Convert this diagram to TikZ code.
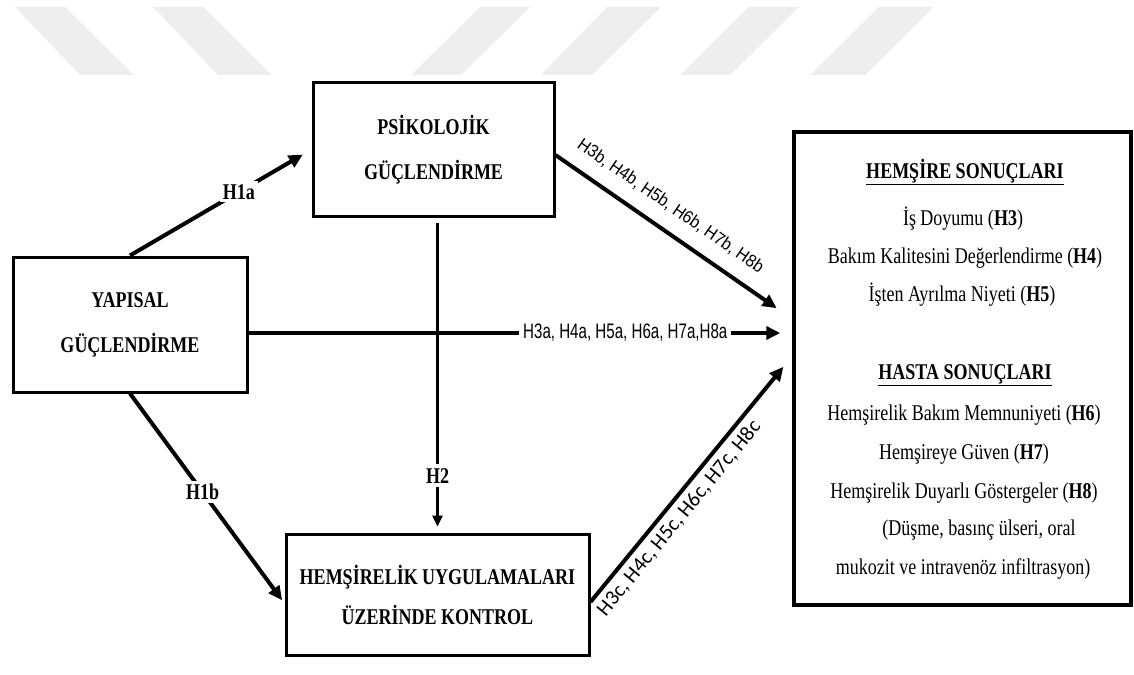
\documentclass[tikz,border=0pt]{standalone}
\usepackage{fontspec}
\setmainfont{Liberation Serif}
\newfontfamily\cserif[FakeStretch=0.8]{Liberation Serif}
\newfontfamily\csans[FakeStretch=0.72]{Liberation Sans}
\newfontfamily\hsans[FakeStretch=0.92]{Liberation Sans}
\newfontfamily\calib{Carlito}
\usetikzlibrary{arrows.meta}

\tikzset{
  wmbar/.style={fill=gray!13, draw=none},
  boxnode/.style={draw, line width=3pt, align=center, inner sep=0pt,
    font=\cserif\bfseries\fontsize{22.5}{45}\selectfont},
  txt/.style={anchor=base, inner sep=0pt, font=\cserif\fontsize{22.5}{27}\selectfont},
  head/.style={txt, font=\cserif\bfseries\fontsize{22.5}{27}\selectfont},
  conn/.style={line width=4pt, -{Triangle[length=14pt,width=13pt]}},
  thin conn/.style={line width=2.5pt, -{Triangle[length=11pt,width=10pt]}},
  hlab/.style={fill=white, inner sep=3pt, font=\cserif\bfseries\fontsize{22.5}{27}\selectfont},
}

\begin{document}
\begin{tikzpicture}[x=1pt, y=-1pt]
\useasboundingbox (0,0) rectangle (1134,674);

% faint slanted bars along the top edge
\fill[wmbar] (15,7) -- (65,7) -- (134,75) -- (80,75) -- cycle;
\fill[wmbar] (153,7) -- (203,7) -- (272,75) -- (218,75) -- cycle;
\fill[wmbar] (480,7) -- (530,7) -- (461,75) -- (411,75) -- cycle;
\fill[wmbar] (607,7) -- (661,7) -- (592,75) -- (541,75) -- cycle;
\fill[wmbar] (749,7) -- (799,7) -- (730,75) -- (680,75) -- cycle;
\fill[wmbar] (879,7) -- (934,7) -- (865,75) -- (810,75) -- cycle;

% the four boxes
\node[boxnode, minimum width=241pt, minimum height=133pt] (psy) at (433.5,149.5)
  {PSİKOLOJİK\\GÜÇLENDİRME};
\node[boxnode, minimum width=234pt, minimum height=135pt] (yap) at (130,324.5)
  {YAPISAL\\GÜÇLENDİRME};
\node[boxnode, minimum width=303pt, minimum height=121pt,
  font=\cserif\bfseries\fontsize{22.5}{40}\selectfont] (hem) at (437.5,594.5)
  {HEMŞİRELİK UYGULAMALARI\\ÜZERİNDE KONTROL};
\node[draw, line width=3.5pt, minimum width=337pt, minimum height=473pt, inner sep=0pt]
  (out) at (962.5,368.5) {};

% outcome list
\node[head] (t1) at (965,178) {\underline{HEMŞİRE SONUÇLARI}};
\node[txt] (t2) at (963,225) {İş Doyumu (\textbf{H3})};
\node[txt] (t3) at (965,263) {Bakım Kalitesini Değerlendirme (\textbf{H4})};
\node[txt] (t4) at (962,301) {İşten Ayrılma Niyeti (\textbf{H5})};
\node[head] (t5) at (965,379) {\underline{HASTA SONUÇLARI}};
\node[txt] (t6) at (964,420) {Hemşirelik Bakım Memnuniyeti (\textbf{H6})};
\node[txt] (t7) at (964,459) {Hemşireye Güven (\textbf{H7})};
\node[txt] (t8) at (964,498) {Hemşirelik Duyarlı Göstergeler (\textbf{H8})};
\node[txt] (t9) at (979,535) {(Düşme, basınç ülseri, oral};
\node[txt] (t10) at (963,574) {mukozit ve intravenöz infiltrasyon)};

% paths between the constructs
\draw[conn, shorten >=10pt] (yap.north) -- (psy.west)
  node[hlab, pos=0.6] (l1a) {H1a};
\draw[conn, shorten >=4pt] (yap.south) -- ([yshift=-9pt]hem.west)
  node[hlab, pos=0.47] (l1b) {H1b};
\draw[thin conn, shorten <=5pt, shorten >=6pt] (psy.south -| hem.north) -- (hem.north)
  node[hlab, pos=0.82, inner sep=4pt] (l2) {H2};
\draw[conn, shorten >=12pt] ([yshift=-8.5pt]yap.east) -- ([yshift=-8.5pt]yap.east -| out.west)
  node[fill=white, inner sep=4pt, pos=0.693,
    font=\csans\fontsize{21}{25}\selectfont] (l3a) {H3a, H4a, H5a, H6a, H7a,H8a};
\draw[conn, shorten >=19pt] ([yshift=-5.5pt]psy.east) -- ([yshift=49.5pt]out.west)
  node[sloped, above=14pt, pos=0.43, inner sep=0pt,
    font=\hsans\fontsize{17.5}{20}\selectfont] (l3b) {H3b, H4b, H5b, H6b, H7b, H8b};
\draw[conn, shorten >=14pt] ([yshift=-7.5pt]hem.east) -- ([yshift=12.5pt]out.west)
  node[sloped, below=5pt, pos=0.38, inner sep=0pt,
    font=\calib\fontsize{21}{24}\selectfont] (l3c) {H3c, H4c, H5c, H6c, H7c, H8c};
\end{tikzpicture}
\end{document}
